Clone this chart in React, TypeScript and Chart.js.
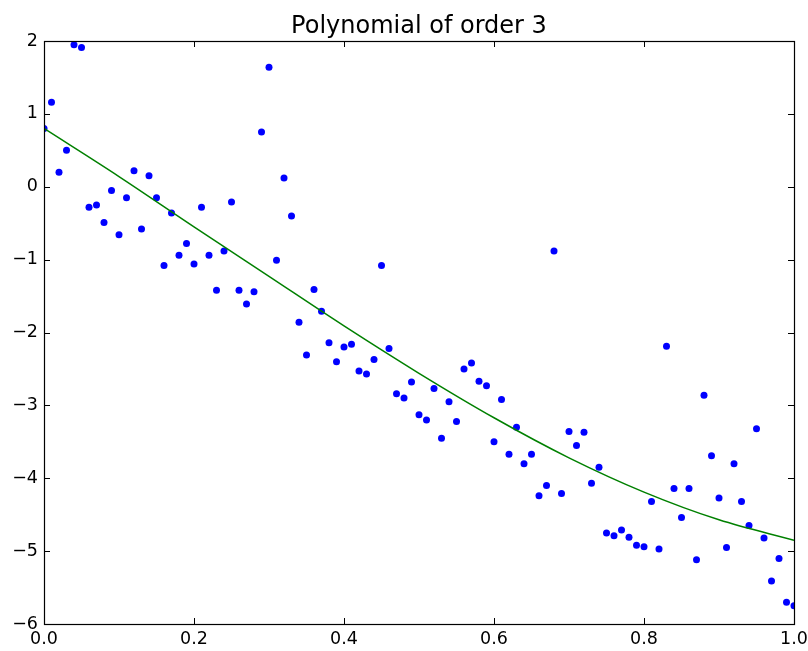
import React, { useEffect, useRef } from "react";
import { Chart, registerables } from "chart.js";

Chart.register(...registerables);

const titleText = "Polynomial of order 3";

const xValues = [
  0.0, 0.01, 0.02, 0.03, 0.04, 0.05, 0.06, 0.07, 0.08, 0.09,
  0.1, 0.11, 0.12, 0.13, 0.14, 0.15, 0.16, 0.17, 0.18, 0.19,
  0.2, 0.21, 0.22, 0.23, 0.24, 0.25, 0.26, 0.27, 0.28, 0.29,
  0.3, 0.31, 0.32, 0.33, 0.34, 0.35, 0.36, 0.37, 0.38, 0.39,
  0.4, 0.41, 0.42, 0.43, 0.44, 0.45, 0.46, 0.47, 0.48, 0.49,
  0.5, 0.51, 0.52, 0.53, 0.54, 0.55, 0.56, 0.57, 0.58, 0.59,
  0.6, 0.61, 0.62, 0.63, 0.64, 0.65, 0.66, 0.67, 0.68, 0.69,
  0.7, 0.71, 0.72, 0.73, 0.74, 0.75, 0.76, 0.77, 0.78, 0.79,
  0.8, 0.81, 0.82, 0.83, 0.84, 0.85, 0.86, 0.87, 0.88, 0.89,
  0.9, 0.91, 0.92, 0.93, 0.94, 0.95, 0.96, 0.97, 0.98, 0.99,
  1.0,
];

const yValues = [
  0.8, 1.16, 0.2, 0.5, 1.95, 1.91, -0.28, -0.25, -0.49, -0.05,
  -0.66, -0.15, 0.22, -0.58, 0.15, -0.15, -1.08, -0.36, -0.94, -0.78,
  -1.06, -0.28, -0.94, -1.42, -0.88, -0.21, -1.42, -1.61, -1.44, 0.75,
  1.64, -1.01, 0.12, -0.4, -1.86, -2.31, -1.41, -1.71, -2.14, -2.4,
  -2.2, -2.16, -2.53, -2.57, -2.37, -1.08, -2.22, -2.84, -2.9, -2.68,
  -3.13, -3.2, -2.77, -3.45, -2.95, -3.22, -2.5, -2.42, -2.67, -2.73,
  -3.5, -2.92, -3.67, -3.3, -3.8, -3.67, -4.24, -4.1, -0.88, -4.21,
  -3.36, -3.55, -3.37, -4.07, -3.85, -4.75, -4.79, -4.71, -4.81, -4.92,
  -4.94, -4.32, -4.97, -2.19, -4.14, -4.54, -4.14, -5.12, -2.86, -3.69,
  -4.27, -4.95, -3.8, -4.32, -4.65, -3.32, -4.82, -5.41, -5.1, -5.7,
  -5.75,
];

const fitX = [0.0, 0.1, 0.2, 0.3, 0.4, 0.5, 0.6, 0.7, 0.8, 0.9, 1.0];
const fitY = [0.8, 0.14, -0.55, -1.23, -1.91, -2.56, -3.17, -3.72, -4.19, -4.57, -4.85];

const xTicks = [0, 0.2, 0.4, 0.6, 0.8, 1.0];
const yTicks = [2, 1, 0, -1, -2, -3, -4, -5, -6];

const FONT = "DejaVu Sans";

const framePlugin = {
  id: "frame",
  afterDraw(chart: any) {
    const { ctx, chartArea } = chart;
    const { left, right, top, bottom } = chartArea;
    const xs = chart.scales.x;
    const ys = chart.scales.y;
    ctx.save();
    ctx.strokeStyle = "#000000";
    ctx.lineWidth = 1;
    ctx.beginPath();
    const tl = 6;
    xs.ticks.forEach((t: any) => {
      const px = Math.round(xs.getPixelForValue(t.value)) + 0.5;
      ctx.moveTo(px, bottom);
      ctx.lineTo(px, bottom - tl);
      ctx.moveTo(px, top);
      ctx.lineTo(px, top + tl);
    });
    ys.ticks.forEach((t: any) => {
      const py = Math.round(ys.getPixelForValue(t.value)) + 0.5;
      ctx.moveTo(left, py);
      ctx.lineTo(left + tl, py);
      ctx.moveTo(right, py);
      ctx.lineTo(right - tl, py);
    });
    ctx.stroke();
    ctx.lineWidth = 1.2;
    ctx.strokeRect(Math.round(left) + 0.5, Math.round(top) + 0.5, Math.round(right - left), Math.round(bottom - top));
    ctx.fillStyle = "#000000";
    ctx.font = `24px "${FONT}"`;
    ctx.textAlign = "center";
    ctx.textBaseline = "alphabetic";
    ctx.fillText(titleText, (left + right) / 2, 32.5);
    ctx.restore();
  },
};

export default function App() {
  const ref = useRef<HTMLCanvasElement | null>(null);
  useEffect(() => {
    if (!ref.current) return;
    const chart = new Chart(ref.current, {
      type: "scatter",
      data: {
        datasets: [
          {
            type: "line",
            label: "fit",
            data: fitX.map((x, i) => ({ x, y: fitY[i] })),
            borderColor: "#008000",
            borderWidth: 1.5,
            pointRadius: 0,
            fill: false,
            cubicInterpolationMode: "monotone",
            clip: 0,
            order: 1,
          } as any,
          {
            type: "scatter",
            label: "data",
            data: xValues.map((x, i) => ({ x, y: yValues[i] })),
            backgroundColor: "#0000ff",
            borderColor: "#0000ff",
            borderWidth: 0,
            pointRadius: 3.5,
            clip: 0,
            order: 2,
          } as any,
        ],
      },
      options: {
        animation: false,
        responsive: false,
        maintainAspectRatio: false,
        layout: { padding: { left: 0, right: 14, top: 41, bottom: 0 } },
        plugins: {
          legend: { display: false },
          title: { display: false },
          tooltip: { enabled: false },
        },
        scales: {
          x: {
            type: "linear",
            min: 0,
            max: 1,
            afterBuildTicks: (s: any) => {
              s.ticks = xTicks.map((v) => ({ value: v }));
            },
            afterFit: (s: any) => {
              s.height = 27;
              s.paddingLeft = 0;
              s.paddingRight = 0;
            },
            grid: { display: false, drawTicks: false },
            border: { display: false },
            ticks: {
              padding: 5,
              color: "#000000",
              font: { family: FONT, size: 17.5 },
              maxRotation: 0,
              autoSkip: false,
              callback: (v: any) => Number(v).toFixed(1),
            },
          },
          y: {
            type: "linear",
            min: -6,
            max: 2,
            afterBuildTicks: (s: any) => {
              s.ticks = yTicks.map((v) => ({ value: v }));
            },
            afterFit: (s: any) => {
              s.width = 44;
              s.paddingTop = 0;
              s.paddingBottom = 0;
            },
            grid: { display: false, drawTicks: false },
            border: { display: false },
            ticks: {
              padding: 6,
              color: "#000000",
              font: { family: FONT, size: 17.5 },
              autoSkip: false,
              callback: (v: any) => (Number(v) < 0 ? "\u2212" + Math.abs(Number(v)) : String(v)),
            },
          },
        },
      },
      plugins: [framePlugin],
    });
    return () => chart.destroy();
  }, []);
  return (
    <div style={{ position: "fixed", left: 0, top: 0, width: 808, height: 651, background: "#ffffff" }}>
      <canvas ref={ref} width={808} height={651} style={{ width: 808, height: 651, display: "block" }} />
    </div>
  );
}
